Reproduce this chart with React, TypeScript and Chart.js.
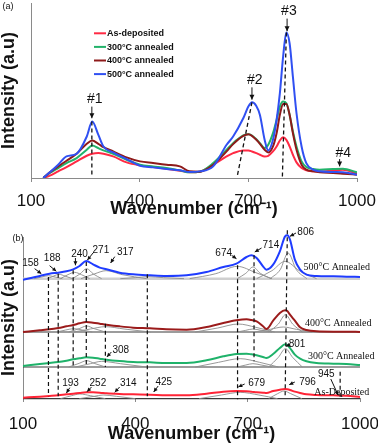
import React, { useEffect, useRef } from "react";
import { Chart, registerables } from "chart.js";
Chart.register(...registerables);

// ---------------- Panel (a) data ----------------
const waveA = [134,152,175,198,226,254,269,286,300,327,364,401,437,474,511,538,566,603,640,658,686,700,710,722,732,745,755,768,778,787,796,805,814,823,833,847,860,879,897,934,961,1000];
const asDepA = [0,7,20,33,50,67,73,75,73,65,47,38,33,28,22,17,19,40,65,75,83,83,80,75,70,65,67,80,95,113,123,115,95,70,47,30,23,20,19,23,25,13];
const ann300A = [0,15,30,45,60,85,98,90,83,73,55,40,35,30,23,17,19,45,85,105,128,132,128,117,105,90,100,135,175,215,230,225,190,140,95,50,33,27,25,27,28,17];
const ann400A = [0,17,35,52,73,103,113,103,93,80,62,50,45,40,35,20,19,40,80,102,127,132,127,115,103,85,77,95,135,190,223,223,190,135,85,40,25,20,17,15,13,10];
const ann500A = [0,17,40,65,73,125,170,130,95,77,57,37,32,27,23,18,20,35,100,125,180,215,228,217,190,115,83,115,175,255,365,438,405,305,195,95,45,25,20,18,17,10];
const seriesLabelsA = ["As-deposited", "300°C annealed", "400°C annealed", "500°C annealed"];
// dashed guide lines (a): top point and bottom point
const dashXTopA = [268, 710, 805];
const dashYTopA = [170, 228, 438];
const dashXBotA = [268, 669, 794];
const dashYBotA = [3, 3, 3];
const peakTagsA = ["#1", "#2", "#3", "#4"];
const xTicks = [100, 400, 700, 1000];

// ---------------- Panel (b) data ----------------
const waveB = [100,145,171,194,216,234,251,269,287,305,323,358,394,439,483,537,590,635,670,697,710,724,741,750,768,786,800,806,813,826,840,857,884,929,964,1000];
const asDepB = [1,4,6,8,11,13,15,17,17,16,14,12,11,10,8,8,13,19,21,20,19,17,16,15,21,25,27,26,24,19,15,11,9,8,7,3];
const ann300B = [96,102,105,108,112,116,119,122,121,118,115,111,108,107,105,105,113,125,132,133,131,128,123,120,132,150,161,159,150,130,118,110,105,103,102,99];
const ann400B = [198,203,206,210,215,219,224,228,226,223,220,215,211,209,206,205,213,225,233,236,234,230,215,207,232,255,263,261,250,232,212,204,200,199,199,198];
const ann500B = [355,366,373,376,380,386,396,411,401,391,386,376,371,368,366,368,378,393,403,423,428,420,395,385,400,440,485,488,475,415,385,370,366,365,364,363];
const baselinesB = [358, 198, 93, -2];
// fitted components (wavenumber, intensity)
const fit500 = [
  [[130,358],[150,363],[168,367],[186,363],[205,358]],
  [[165,358],[182,366],[196,371],[212,366],[232,358]],
  [[200,358],[220,370],[238,377],[256,370],[278,358]],
  [[232,358],[252,372],[270,388],[288,372],[310,358]],
  [[255,358],[290,372],[322,382],[365,370],[430,358]],
  [[360,358],[400,361],[432,364],[475,361],[530,358]],
  [[545,358],[615,373],[672,395],[722,376],[765,358]],
  [[672,358],[695,374],[714,393],[734,374],[762,358]],
  [[724,358],[765,382],[800,410],[838,382],[884,358]],
  [[760,358],[787,385],[808,435],[830,385],[858,358]],
];
const fit400 = [
  [[190,198],[214,204],[236,208],[258,204],[285,198]],
  [[222,198],[250,208],[270,216],[290,208],[320,198]],
  [[235,198],[280,207],[320,214],[370,207],[440,198]],
  [[560,198],[620,210],[675,222],[722,212],[772,198]],
  [[672,198],[695,203],[714,207],[736,203],[765,198]],
  [[720,198],[760,206],[795,213],[830,206],[872,198]],
  [[756,198],[782,222],[801,250],[820,222],[846,198]],
];
const fit300 = [
  [[222,93],[250,104],[270,112],[290,104],[320,93]],
  [[240,93],[280,103],[310,110],[360,103],[430,93]],
  [[560,93],[622,107],[680,118],[732,107],[782,93]],
  [[672,93],[695,99],[714,103],[736,99],[765,93]],
  [[756,93],[782,122],[801,148],[820,122],[846,93]],
];
const fitAs = [
  [[200,-2],[230,7],[252,12],[280,7],[320,-2]],
  [[250,-2],[290,5],[314,9],[350,5],[400,-2]],
  [[570,-2],[630,9],[680,17],[730,9],[780,-2]],
  [[756,-2],[780,13],[797,21],[815,13],[845,-2]],
];
const dashXTopB = [168, 194, 234, 269, 320, 432, 673, 717, 806, 947];
const dashYTopB = [363, 373, 383, 408, 223, 371, 398, 428, 503, 79];
const dashXBotB = [168, 194, 234, 269, 320, 432, 673, 717, 800, 947];
const dashYBotB = [5, 5, 95, 95, 93, 5, -4, 110, 0, 2];
const peakNumbersB = ["158","188","240","271","317","674","714","806","308","801","193","252","314","425","679","796","945"];
const spectrumNamesB = ["500°C Annealed", "400°C Annealed", "300°C Annealed", "As-Deposited"];

// ---------------- helpers ----------------
const SANS = "'Liberation Sans', Arial, sans-serif";
const SERIF = "'Liberation Serif', 'Times New Roman', serif";
const pts = (xs: number[], ys: number[]) => xs.map((x, i) => ({ x, y: ys[i] }));
const pairs = (arr: number[][]) => arr.map(([x, y]) => ({ x, y }));

function drawArrow(ctx: CanvasRenderingContext2D, x1: number, y1: number, x2: number, y2: number, head: number) {
  ctx.beginPath();
  ctx.moveTo(x1, y1);
  ctx.lineTo(x2, y2);
  ctx.stroke();
  const a = Math.atan2(y2 - y1, x2 - x1);
  ctx.beginPath();
  ctx.moveTo(x2, y2);
  ctx.lineTo(x2 - head * Math.cos(a) + head * 0.5 * Math.sin(a), y2 - head * Math.sin(a) - head * 0.5 * Math.cos(a));
  ctx.lineTo(x2 - head * Math.cos(a) - head * 0.5 * Math.sin(a), y2 - head * Math.sin(a) + head * 0.5 * Math.cos(a));
  ctx.closePath();
  ctx.fill();
}

const notesPlugin = {
  id: "notes",
  afterDatasetsDraw(chart: any, _a: any, opts: any) {
    const { ctx } = chart;
    const xs = chart.scales.x, ys = chart.scales.y;
    ctx.save();
    ctx.strokeStyle = "#111";
    ctx.fillStyle = "#111";
    ctx.lineWidth = 1;
    for (const n of opts.items || []) {
      if (n.arrow) {
        const [x1, y1, x2, y2] = n.arrow;
        drawArrow(ctx, xs.getPixelForValue(x1), ys.getPixelForValue(y1), xs.getPixelForValue(x2), ys.getPixelForValue(y2), n.head || 4.5);
      }
      ctx.font = n.font;
      ctx.textAlign = n.align || "center";
      ctx.textBaseline = "middle";
      const px = n.px ? n.x : xs.getPixelForValue(n.x);
      const py = n.px ? n.y : ys.getPixelForValue(n.y);
      ctx.fillText(n.text, px, py);
    }
    ctx.restore();
  },
};

const legendPlugin = {
  id: "boxLegend",
  afterDatasetsDraw(chart: any, _a: any, opts: any) {
    if (!opts.entries) return;
    const { ctx } = chart;
    ctx.save();
    ctx.font = `bold 9px ${SANS}`;
    ctx.textBaseline = "middle";
    ctx.textAlign = "left";
    opts.entries.forEach((e: any, i: number) => {
      const y = opts.y + i * opts.step;
      ctx.strokeStyle = e.color;
      ctx.lineWidth = 2;
      ctx.beginPath();
      ctx.moveTo(opts.x, y);
      ctx.lineTo(opts.x + 12, y);
      ctx.stroke();
      ctx.fillStyle = "#111";
      ctx.fillText(e.label, opts.x + 13, y + 0.5);
    });
    ctx.restore();
  },
};

const colorsA = ["#ff2a44", "#22b36a", "#8e1a1a", "#3050f2"];
const colorsB = ["#1f3cff", "#9b1b1b", "#1fb26a", "#ff2436"];

function baseScales(opts: any) {
  return {
    x: {
      type: "linear",
      min: 100,
      max: 1000,
      afterBuildTicks: (s: any) => { s.ticks = xTicks.map((v) => ({ value: v })); },
      afterFit: (s: any) => { s.height = opts.xh; s.paddingLeft = 0; s.paddingRight = 0; },
      ticks: { font: { family: SANS, size: 17 }, color: "#111", padding: opts.tickPad, maxRotation: 0, autoSkip: false, callback: (v: any) => String(v) },
      grid: { display: true, drawOnChartArea: false, drawTicks: true, tickLength: 4, color: "#8a8a8a" },
      border: { color: "#8a8a8a", width: 1 },
      title: { display: true, text: "Wavenumber (cm⁻¹)", color: "#111", font: { family: SANS, size: 18, weight: "bold" }, padding: { top: 0, bottom: opts.titlePad } },
    },
    y: {
      type: "linear",
      min: 0,
      max: opts.ymax,
      afterFit: (s: any) => { s.width = opts.yw; },
      ticks: { display: false },
      grid: { display: false },
      border: { color: "#8a8a8a", width: 1 },
      title: { display: true, text: "Intensity (a.u)", color: "#111", font: { family: SANS, size: 18, weight: "bold", lineHeight: 1 }, padding: 0 },
    },
  };
}

function buildA(): any {
  const spectra = [asDepA, ann300A, ann400A, ann500A];
  const orders = [4, 3, 2, 1];
  const datasets: any[] = spectra.map((s, i) => ({
    label: seriesLabelsA[i],
    data: pts(waveA, s),
    borderColor: colorsA[i],
    borderWidth: 2,
    pointRadius: 0,
    cubicInterpolationMode: "monotone",
    order: orders[i],
  }));
  dashXTopA.forEach((x, i) => {
    datasets.push({
      data: [{ x, y: dashYTopA[i] }, { x: dashXBotA[i], y: dashYBotA[i] }],
      borderColor: "#111", borderWidth: 1.3, borderDash: [4, 3], pointRadius: 0, order: 0,
    });
  });
  const tagPos = [[276, 238], [718, 294], [812, 503], [962, 74]];
  const tagArrow = [[268, 215, 268, 180], [710, 273, 710, 236], [807, 480, 807, 442], [952, 57, 952, 35]];
  const items: any[] = peakTagsA.map((t, i) => ({ text: t, x: tagPos[i][0], y: tagPos[i][1], font: `14px ${SANS}`, arrow: tagArrow[i], head: 5 }));
  items.push({ text: "(a)", x: 8, y: 6.5, px: true, font: `9px ${SANS}` });
  return {
    type: "line",
    data: { datasets },
    plugins: [notesPlugin, legendPlugin],
    options: {
      animation: false,
      responsive: false,
      devicePixelRatio: 1,
      layout: { padding: { top: 3, right: 21, left: 0, bottom: 0 } },
      scales: baseScales({ xh: 46, yw: 31, ymax: 527, tickPad: 9, titlePad: 4 }),
      plugins: {
        legend: { display: false },
        tooltip: { enabled: false },
        notes: { items },
        boxLegend: { x: 94, y: 33.3, step: 13.6, entries: seriesLabelsA.map((l, i) => ({ label: l, color: colorsA[i] })) },
      },
    },
  };
}

function buildB(): any {
  const spectra = [ann500B, ann400B, ann300B, asDepB];
  const datasets: any[] = spectra.map((s, i) => ({
    data: pts(waveB, s), borderColor: colorsB[i], borderWidth: 2, pointRadius: 0,
    cubicInterpolationMode: "monotone", order: 1, clip: false,
  }));
  [fit500, fit400, fit300, fitAs].forEach((group) => group.forEach((c) => {
    datasets.push({ data: pairs(c), borderColor: "#8c8c8c", borderWidth: 0.9, pointRadius: 0, cubicInterpolationMode: "monotone", order: 5, clip: false });
  }));
  baselinesB.forEach((b, i) => {
    datasets.push({
      data: [{ x: 100, y: b }, { x: 1000, y: b }],
      borderColor: i === 0 ? "#cfcfcf" : "#3a3a3a", borderWidth: i === 0 ? 2.5 : 1.1, pointRadius: 0, order: 6, clip: false,
    });
  });
  dashXTopB.forEach((x, i) => {
    datasets.push({
      data: [{ x, y: dashYTopB[i] }, { x: dashXBotB[i], y: dashYBotB[i] }],
      borderColor: "#111", borderWidth: 1.2, borderDash: [4, 3], pointRadius: 0, order: 0, clip: false,
    });
  });
  const numPos = [[120,405],[178,418],[251,432],[308,443],[373,438],[636,435],[762,457],[855,497],[361,143],[832,160],[227,43],[300,43],[381,43],[476,48],[724,43],[860,48],[910,70]];
  const numArrow = [[131,388,149,373],[171,397,189,380],[240,420,240,398],[287,435,272,414],[345,424,334,405],[657,428,670,418],[737,450,719,438],[829,495,813,485],[336,138,324,123],[813,160,802,155],[225,31,216,15],[283,33,271,19],[358,33,345,17],[461,36,449,18],[692,42,675,33],[826,48,811,40],[922,57,942,8]];
  const items: any[] = peakNumbersB.map((t, i) => ({ text: t, x: numPos[i][0], y: numPos[i][1], font: `10px ${SANS}`, arrow: numArrow[i], head: 4 }));
  const namePos = [[849, 392], [853, 223], [861, 125], [878, 18]];
  spectrumNamesB.forEach((t, i) => items.push({ text: t, x: namePos[i][0], y: namePos[i][1], align: "left", font: `10px ${SERIF}` }));
  items.push({ text: "(b)", x: 18, y: 14.5, px: true, font: `9px ${SANS}` });
  return {
    type: "line",
    data: { datasets },
    plugins: [notesPlugin],
    options: {
      animation: false,
      responsive: false,
      devicePixelRatio: 1,
      layout: { padding: { top: 13, right: 18, left: 0, bottom: 0 } },
      scales: baseScales({ xh: 50, yw: 23, ymax: 483, tickPad: 12, titlePad: 3 }),
      plugins: { legend: { display: false }, tooltip: { enabled: false }, notes: { items } },
    },
  };
}

function ChartCanvas({ build }: { build: () => any }) {
  const ref = useRef<HTMLCanvasElement>(null);
  useEffect(() => {
    const chart = new Chart(ref.current as HTMLCanvasElement, build());
    return () => chart.destroy();
  }, [build]);
  return <canvas ref={ref} width={378} height={224} style={{ display: "block", width: 378, height: 224 }} />;
}

export default function App() {
  return (
    <div style={{ position: "absolute", left: 0, top: 0, width: 378, height: 448, background: "#fff" }}>
      <ChartCanvas build={buildA} />
      <ChartCanvas build={buildB} />
    </div>
  );
}
